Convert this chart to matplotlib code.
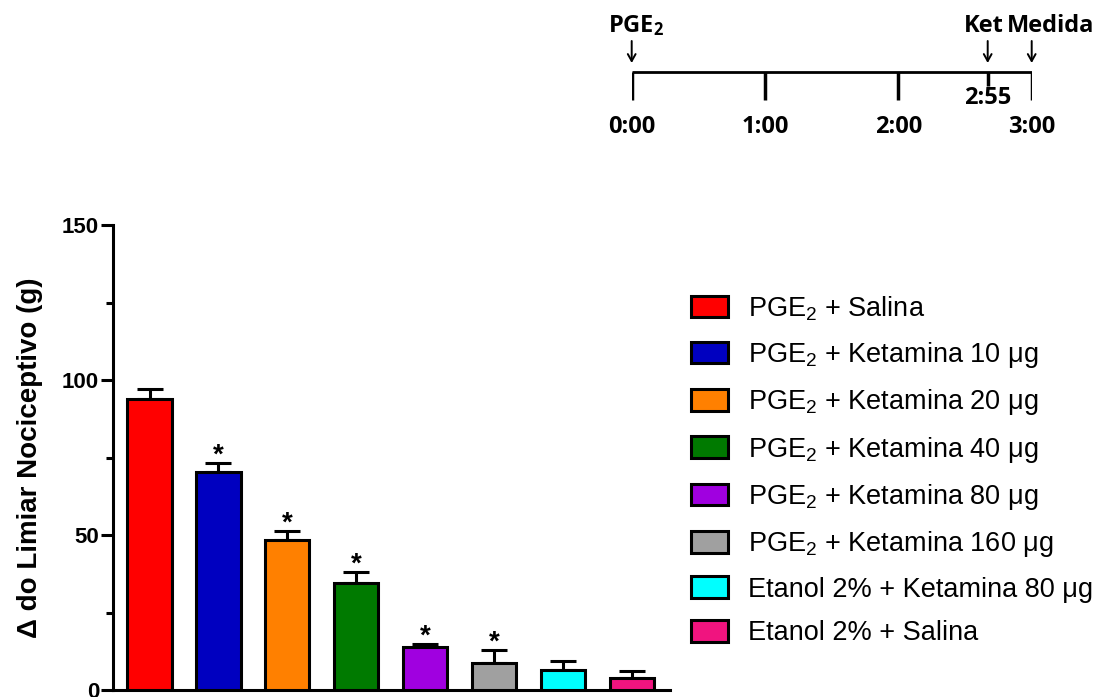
import matplotlib
matplotlib.use('Agg')
import matplotlib.pyplot as plt
from matplotlib.ticker import MultipleLocator

plt.rcParams['font.family'] = ['Liberation Sans', 'DejaVu Sans']
plt.rcParams['mathtext.default'] = 'regular'

# groups, means and upper SEM
groups = ['PGE$_2$ + Salina',
          'PGE$_2$ + Ketamina 10 μg',
          'PGE$_2$ + Ketamina 20 μg',
          'PGE$_2$ + Ketamina 40 μg',
          'PGE$_2$ + Ketamina 80 μg',
          'PGE$_2$ + Ketamina 160 μg',
          'Etanol 2% + Ketamina 80 μg',
          'Etanol 2% + Salina']
means = [93.9, 70.4, 48.4, 34.4, 14.0, 8.6, 6.5, 3.8]
sem = [3.3, 2.9, 3.0, 3.8, 0.8, 4.3, 2.9, 2.2]
signif = [False, True, True, True, True, True, False, False]
colors = ['#FF0000', '#0000C0', '#FF8000', '#007A00',
          '#A000E0', '#A0A0A0', '#00FFFF', '#F0147F']

# protocol timeline (hours)
time_pos = [0, 1, 2, 3]
time_labels = ['0:00', '1:00', '2:00', '3:00']
ket_pos = 2.67
ket_label = '2:55'

fig = plt.figure(figsize=(11.02, 6.97), dpi=100)
W, H = 1102, 697

# bar chart
ax = fig.add_axes([113 / W, 7 / H, 557 / W, 465 / H])
x = list(range(len(means)))
lw = 2.2
bars = ax.bar(x, means, width=0.64, color=colors, edgecolor='black',
              linewidth=lw, zorder=3)
ax.errorbar(x, means, yerr=[[0] * len(sem), sem], fmt='none', ecolor='black',
            elinewidth=lw, capsize=9.5, capthick=lw, zorder=2)
for xi, m, e, s in zip(x, means, sem, signif):
    if s:
        ax.text(xi, m + e, '*', ha='center', va='baseline', fontsize=20,
                fontweight='bold')

ax.set_xlim(-0.53, 7.55)
ax.set_ylim(0, 150)
ax.yaxis.set_major_locator(MultipleLocator(50))
ax.yaxis.set_minor_locator(MultipleLocator(25))
ax.tick_params(axis='y', which='major', length=9, width=lw, labelsize=16, pad=1)
ax.tick_params(axis='y', which='minor', length=5, width=lw)
ax.set_xticks([])
for lab in ax.get_yticklabels():
    lab.set_fontweight('bold')
for sp in ['top', 'right']:
    ax.spines[sp].set_visible(False)
for sp in ['left', 'bottom']:
    ax.spines[sp].set_linewidth(lw)
ax.set_ylabel('Δ do Limiar Nociceptivo (g)', fontsize=20, fontweight='bold',
              labelpad=14)

leg = fig.legend(bars, groups, loc='upper left',
                 bbox_to_anchor=(691 / W, 1 - 294 / H), frameon=False,
                 fontsize=19.5, handlelength=1.35, handleheight=0.85,
                 handletextpad=0.75, labelspacing=0.64, borderpad=0,
                 borderaxespad=0)

# timeline
tl = fig.add_axes([631.7 / W, 1 - 140 / H, 400 / W, 140 / H])
tl.set_xlim(0, 3)
tl.set_ylim(140, 0)
tl.axis('off')
tfont = dict(family=['Open Sans', 'DejaVu Sans'], fontweight='bold', fontsize=17)
tl.plot([0, 3], [72, 72], color='black', lw=2, solid_capstyle='butt')
for p, lab in zip(time_pos, time_labels):
    tl.plot([p, p], [72, 100], color='black', lw=2.5, solid_capstyle='butt')
    tl.text(p, 127, lab, ha='center', va='center', **tfont)
tl.plot([ket_pos, ket_pos], [72, 86], color='black', lw=2.5,
        solid_capstyle='butt')
tl.text(ket_pos, 98, ket_label, ha='center', va='center', **tfont)

for p in [0, ket_pos, 3]:
    tl.annotate('', xy=(p, 63), xytext=(p, 41),
                arrowprops=dict(arrowstyle='->,head_length=0.5,head_width=0.28',
                                lw=1.4, color='black', shrinkA=0, shrinkB=0))
tl.text(0.03, 26, 'PGE$_2$', ha='center', va='center', **tfont)
tl.text(2.64, 26, 'Ket', ha='center', va='center', **tfont)
tl.text(3.14, 26, 'Medida', ha='center', va='center', **tfont)

fig.savefig('out.png', dpi=100)
